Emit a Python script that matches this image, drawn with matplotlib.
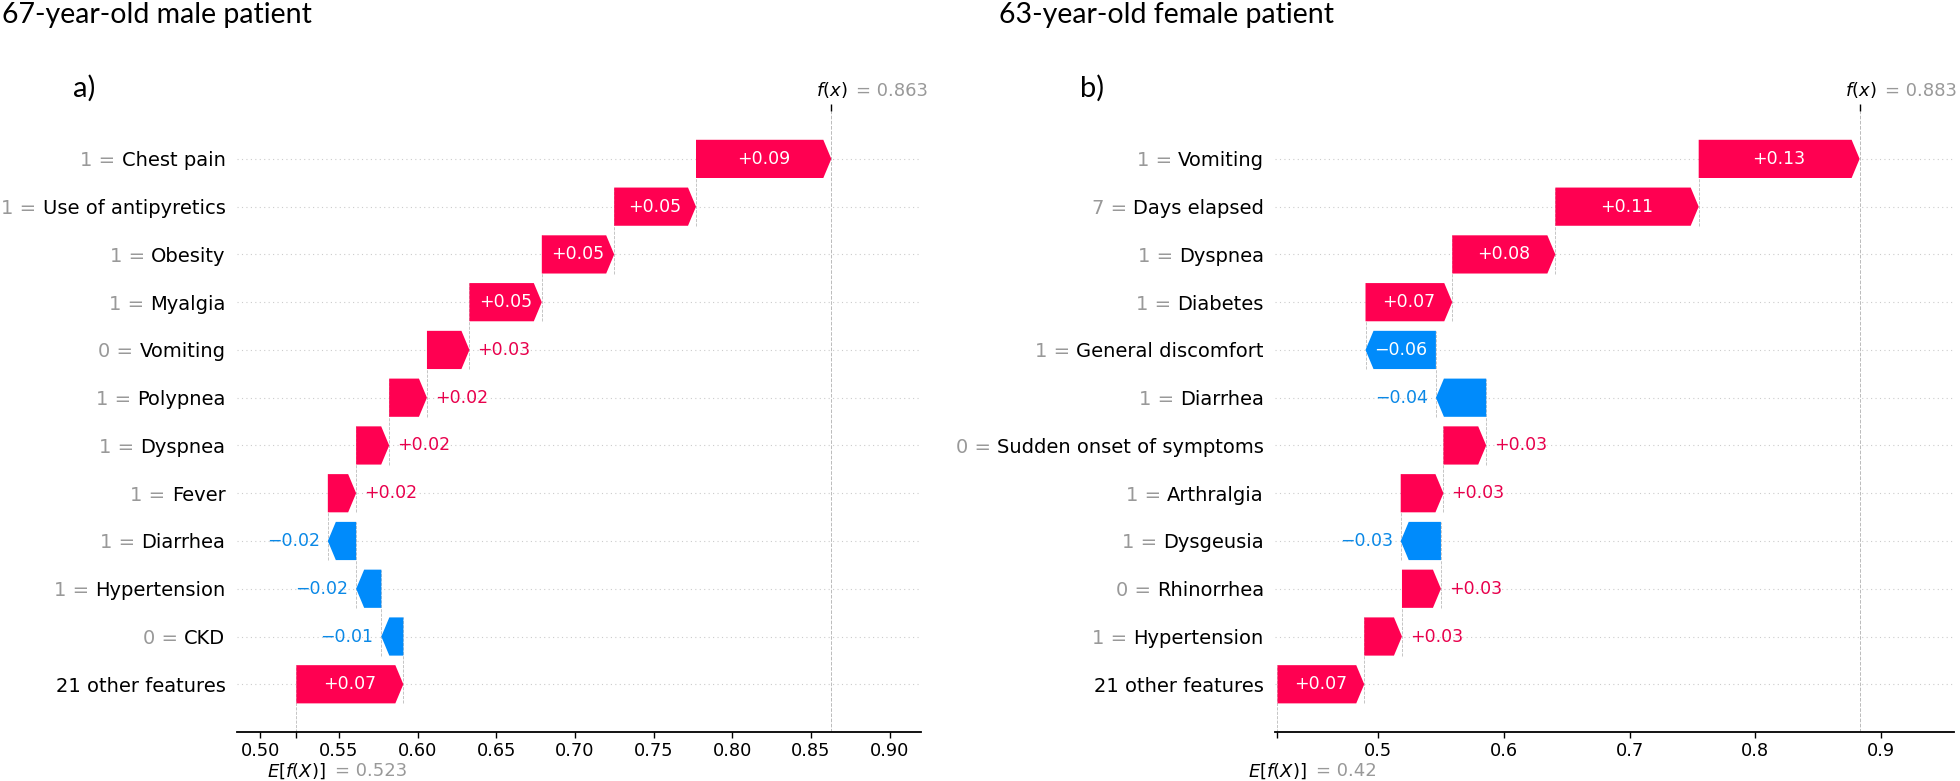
import matplotlib
matplotlib.use('Agg')
import matplotlib.pyplot as plt

# ---- data (top row first, as in the picture) ----
left_title = '67-year-old male patient'
left_tag = 'a)'
left_features = ['Chest pain', 'Use of antipyretics', 'Obesity', 'Myalgia', 'Vomiting',
                 'Polypnea', 'Dyspnea', 'Fever', 'Diarrhea', 'Hypertension', 'CKD',
                 '21 other features']
left_feature_values = ['1', '1', '1', '1', '0', '1', '1', '1', '1', '1', '0', '']
left_shap = [0.086, 0.052, 0.046, 0.046, 0.027, 0.024, 0.021, 0.018,
             -0.018, -0.016, -0.014, 0.068]
left_base = 0.523
left_ticks = [0.50, 0.55, 0.60, 0.65, 0.70, 0.75, 0.80, 0.85, 0.90]
left_tick_labels = ['0.50', '0.55', '0.60', '0.65', '0.70', '0.75', '0.80', '0.85', '0.90']
left_xlim = (0.485, 0.920)

right_title = '63-year-old female patient'
right_tag = 'b)'
right_features = ['Vomiting', 'Days elapsed', 'Dyspnea', 'Diabetes', 'General discomfort',
                  'Diarrhea', 'Sudden onset of symptoms', 'Arthralgia', 'Dysgeusia',
                  'Rhinorrhea', 'Hypertension', '21 other features']
right_feature_values = ['1', '7', '1', '1', '1', '1', '0', '1', '1', '0', '1', '']
right_shap = [0.128, 0.114, 0.082, 0.069, -0.056, -0.040, 0.034, 0.034,
              -0.032, 0.031, 0.030, 0.069]
right_base = 0.42
right_ticks = [0.5, 0.6, 0.7, 0.8, 0.9]
right_tick_labels = ['0.5', '0.6', '0.7', '0.8', '0.9']
right_xlim = (0.418, 0.958)

RED = '#ff0051'
BLUE = '#008bfb'
RED_TXT = '#e8004c'
BLUE_TXT = '#0a88e6'
GRAY = '#999999'
HEAD_PX = 8
YLAB_SIZE = 14
YLAB_PAD = 8  # points


def fmt3(v):
    s = '%0.03f' % v
    return s.rstrip('0').rstrip('.')


def draw_waterfall(fig, ax, features, fvals, shap_vals, base, ticks, tick_labels, xlim):
    n = len(features)
    rows = [n - 1 - i for i in range(n)]
    ax.set_xlim(*xlim)
    ax.set_ylim(-1, n)

    ax_w_px = ax.get_position().width * fig.get_figwidth() * fig.dpi
    px_per_unit = ax_w_px / (xlim[1] - xlim[0])
    head = HEAD_PX / px_per_unit
    renderer = fig.canvas.get_renderer()

    # background dotted row lines
    for r in rows:
        ax.axhline(r, color='#cccccc', lw=0.8, dashes=(1, 3), zorder=-2)

    # walk from bottom row up
    cur = base
    ends = {}
    for i in reversed(range(n)):
        r = rows[i]
        v = shap_vals[i]
        start = cur
        cur = cur + v
        ends[r] = cur
        dist = abs(v)
        hl = min(dist, head)
        color = RED if v > 0 else BLUE
        ax.arrow(start, r, v, 0, width=0.8, head_width=0.8, head_length=hl,
                 length_includes_head=True, color=color, lw=0, zorder=2)

        label = ('%+0.02f' % v).replace('-', '\u2212')
        t = ax.text(start + v / 2, r, label, ha='center', va='center',
                    color='white', fontsize=12.5, zorder=3)
        tw = t.get_window_extent(renderer).width
        if tw > dist * px_per_unit:
            t.remove()
            off = 8
            if v > 0:
                ax.annotate(label, xy=(cur, r), xytext=(off, 0), textcoords='offset pixels',
                            ha='left', va='center', color=RED_TXT, fontsize=12.5)
            else:
                ax.annotate(label, xy=(cur, r), xytext=(-off, 0), textcoords='offset pixels',
                            ha='right', va='center', color=BLUE_TXT, fontsize=12.5)

    # connector lines between consecutive bars
    for r in range(n - 1):
        ax.plot([ends[r], ends[r]], [r - 0.4, r + 1 + 0.4], color='#bbbbbb',
                ls='--', lw=0.6, zorder=-1)
    ax.plot([base, base], [-1, 0.4], color='#bbbbbb', ls='--', lw=0.6, zorder=-1)
    fx = cur
    ax.axvline(fx, color='#bbbbbb', ls='--', lw=0.7, zorder=-1)

    # y labels: black feature name as tick label, gray "value =" in front of it
    ax.set_yticks(rows)
    ax.set_yticklabels(features, fontsize=YLAB_SIZE)
    ax.tick_params(axis='y', length=0, pad=YLAB_PAD)
    pad_px = YLAB_PAD * fig.dpi / 72
    space_px = 0.318 * YLAB_SIZE * fig.dpi / 72
    for r, name, fv in zip(rows, features, fvals):
        if not fv:
            continue
        tmp = ax.text(0, 0, name, fontsize=YLAB_SIZE)
        w = tmp.get_window_extent(renderer).width
        tmp.remove()
        ax.annotate(fv + ' =', xy=(0, r), xycoords=('axes fraction', 'data'),
                    xytext=(-(pad_px + w + space_px), 0), textcoords='offset pixels',
                    ha='right', va='center_baseline', color=GRAY, fontsize=YLAB_SIZE,
                    annotation_clip=False)

    ax.set_xticks(ticks)
    ax.set_xticklabels(tick_labels, fontsize=12.8)
    ax.tick_params(axis='x', length=4, width=1)
    for s in ['left', 'right', 'top']:
        ax.spines[s].set_visible(False)
    ax.spines['bottom'].set_linewidth(1.3)

    # small ticks for E[f(X)] and f(x)
    ax2 = ax.twiny()
    ax2.set_xlim(*xlim)
    ax2.set_xticks([base])
    ax2.set_xticklabels([''])
    ax2.xaxis.set_ticks_position('bottom')
    ax2.tick_params(axis='x', length=4, width=1)
    ax3 = ax.twiny()
    ax3.set_xlim(*xlim)
    ax3.set_xticks([fx])
    ax3.set_xticklabels([''])
    ax3.xaxis.set_ticks_position('top')
    ax3.tick_params(axis='x', length=5, width=1)
    for a in (ax2, ax3):
        for s in a.spines.values():
            s.set_visible(False)

    ax.annotate('$f(x)$', xy=(fx, 1), xycoords=('data', 'axes fraction'),
                xytext=(-15, 15), textcoords='offset pixels', ha='left', va='baseline',
                fontsize=13, annotation_clip=False)
    ax.annotate('= ' + fmt3(fx), xy=(fx, 1), xycoords=('data', 'axes fraction'),
                xytext=(25, 15), textcoords='offset pixels', ha='left', va='baseline',
                fontsize=13, color=GRAY, annotation_clip=False)
    ax.annotate('$E[f(X)]$', xy=(base, 0), xycoords=('data', 'axes fraction'),
                xytext=(-29, -39), textcoords='offset pixels', ha='left', va='center',
                fontsize=13, annotation_clip=False)
    ax.annotate('= ' + fmt3(base), xy=(base, 0), xycoords=('data', 'axes fraction'),
                xytext=(39, -39), textcoords='offset pixels', ha='left', va='center',
                fontsize=13, color=GRAY, annotation_clip=False)


fig = plt.figure(figsize=(19.6, 7.81), dpi=100)
ax_left = fig.add_axes([0.1207, 0.0627, 0.3492, 0.795])
ax_right = fig.add_axes([0.6505, 0.0627, 0.3464, 0.795])

draw_waterfall(fig, ax_left, left_features, left_feature_values, left_shap, left_base,
               left_ticks, left_tick_labels, left_xlim)
draw_waterfall(fig, ax_right, right_features, right_feature_values, right_shap, right_base,
               right_ticks, right_tick_labels, right_xlim)

fig.text(0.001, 1 - 23 / 781, left_title, family='Lato', fontsize=20.5, va='baseline')
fig.text(999 / 1960, 1 - 23 / 781, right_title, family='Lato', fontsize=20.5, va='baseline')
fig.text(73 / 1960, 1 - 97 / 781, left_tag, family='Lato', fontsize=21, va='baseline')
fig.text(1080 / 1960, 1 - 97 / 781, right_tag, family='Lato', fontsize=21, va='baseline')

fig.savefig('out.png', dpi=100)
plt.close(fig)
